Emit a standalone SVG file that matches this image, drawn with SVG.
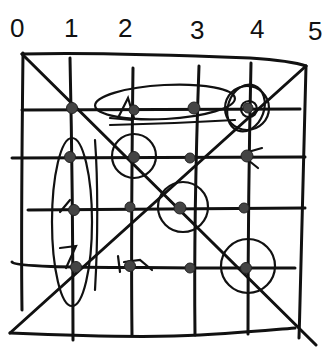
<svg xmlns="http://www.w3.org/2000/svg" width="334" height="347" viewBox="0 0 334 347">
<style>
.s{fill:none;stroke:#111;stroke-width:3;stroke-linecap:round;stroke-linejoin:round}
.t{fill:none;stroke:#111;stroke-width:2.2;stroke-linecap:round}
.d{fill:#444;stroke:#222;stroke-width:1}
.lb{font-family:"Liberation Sans",Arial,sans-serif;font-size:26px;fill:#111}
</style>
<rect width="334" height="347" fill="#fff"/>
<g id="labels">
<text class="lb" x="10" y="37">0</text>
<text class="lb" x="64" y="37">1</text>
<text class="lb" x="118" y="37">2</text>
<text class="lb" x="190" y="39">3</text>
<text class="lb" x="250" y="38">4</text>
<text class="lb" x="308" y="40">5</text>
</g>
<g id="frame">
<path class="s" d="M22,54 C90,52 200,56 250,58 C280,60 295,62 306,66"/>
<path class="s" d="M306,66 C304,140 302,240 299,338"/>
<path class="s" d="M10,333 C80,336 150,338 200,335 C240,333 270,330 295,328"/>
<path class="s" d="M23,53 C22,140 21,240 22,310"/>
<path class="s" d="M22,54 L316,345"/>
<path class="s" d="M10,333 L306,66"/>
</g>
<g id="grid">
<path class="s" d="M22,110 C100,109 200,110 300,109"/>
<path class="s" d="M12,158 C100,157 200,157 305,157"/>
<path class="s" d="M28,210 C100,209 200,209 305,208"/>
<path class="s" d="M12,262 C16,268 100,267 200,268 L295,268"/>
<path class="s" d="M70,58 C72,150 73,250 73,340"/>
<path class="s" d="M133,68 C132,150 131,250 132,335"/>
<path class="s" d="M199,66 C196,150 194,250 195,335"/>
<path class="s" d="M251,63 C249,150 248,250 248,334"/>
</g>
<g id="marks">
<ellipse class="t" cx="165" cy="102" rx="70" ry="17" transform="rotate(-3 165 102)"/>
<path class="t" d="M110,118 L132,120 M118,118 L128,98 L134,118"/>
<path class="t" d="M110,125 C150,124 200,122 235,120"/>
<ellipse class="t" cx="72" cy="222" rx="20" ry="84"/>
<path class="t" d="M95,140 C98,180 98,240 95,290"/>
<circle class="t" cx="134" cy="156" r="22"/>
<circle class="t" cx="183" cy="207" r="25"/>
<circle class="t" cx="248" cy="266" r="27"/>
<circle class="t" cx="247" cy="108" r="22"/>
<ellipse class="t" cx="246" cy="108" rx="18" ry="24" transform="rotate(20 246 108)"/>
<circle class="t" cx="249" cy="109" r="8"/>
<path class="t" d="M60,212 L70,200 M60,248 L76,246 L66,268"/>
<path class="t" d="M118,256 L120,272 M124,262 L140,260 L152,270"/>
<path class="t" d="M248,152 L262,148 M248,160 L258,168"/>
</g>
<g id="nodes">
<circle class="d" cx="72" cy="108" r="5.5"/>
<circle class="d" cx="134" cy="110" r="5"/>
<circle class="d" cx="194" cy="108" r="6"/>
<circle class="d" cx="248" cy="108" r="5"/>
<circle class="d" cx="70" cy="157" r="5.5"/>
<circle class="d" cx="134" cy="157" r="5.5"/>
<circle class="d" cx="190" cy="158" r="5"/>
<circle class="d" cx="247" cy="156" r="6"/>
<circle class="d" cx="74" cy="210" r="5.5"/>
<circle class="d" cx="130" cy="207" r="5"/>
<circle class="d" cx="180" cy="208" r="6"/>
<circle class="d" cx="244" cy="208" r="5"/>
<circle class="d" cx="76" cy="267" r="5.5"/>
<circle class="d" cx="130" cy="266" r="5.5"/>
<circle class="d" cx="190" cy="268" r="5"/>
<circle class="d" cx="246" cy="268" r="5.5"/>
</g>
</svg>
